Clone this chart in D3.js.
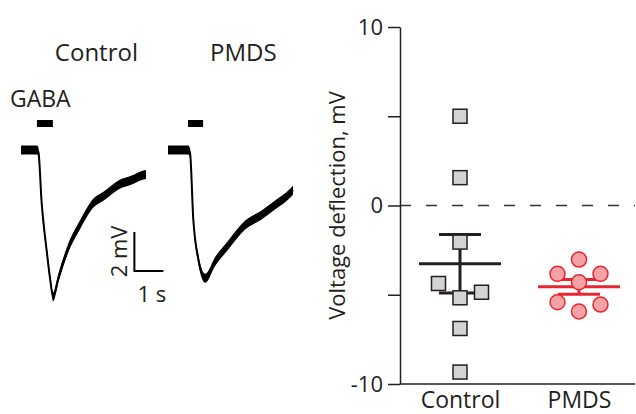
<!DOCTYPE html>
<html>
<head>
<meta charset="utf-8">
<script src="https://cdn.jsdelivr.net/npm/d3@7"></script>
<style>
  html, body { margin: 0; padding: 0; background: #fff; }
  svg { display: block; font-family: "Open Sans", sans-serif; }
</style>
</head>
<body>
<svg id="chart" width="636" height="414"></svg>
<script>
// example traces: time (s) and membrane voltage (mV, relative to baseline)
const ctrlTime = [0, 0.55, 0.6, 0.71, 0.89, 1.0, 1.11, 1.29, 1.63, 2.03, 2.44, 2.9, 3.36, 3.82, 4.22, 4.31];
const ctrlVolt = [0, 0, -0.1, -2.65, -5.22, -6.56, -7.52, -6.56, -5.03, -3.85, -2.82, -2.31, -1.79, -1.54, -1.28, -1.25];
const pmdsTime = [0, 0.7, 0.76, 0.87, 1.04, 1.28, 1.62, 2.08, 2.66, 3.23, 3.69, 4.21, 4.31];
const pmdsVolt = [0, 0, -0.15, -3.5, -5.55, -6.58, -5.73, -4.87, -3.85, -3.33, -2.82, -2.22, -2.05];

// GABA application windows (s)
const ctrlStim = [0.55, 1.1];
const pmdsStim = [0.69, 1.21];

// summary panel
const groups = ['Control', 'PMDS'];
const ctrlValues = [5.0, 1.56, -2.05, -4.37, -4.86, -5.17, -6.89, -9.33];
const ctrlSlot = [0, 0, 0, -1, 1, 0, 0, 0]; // beeswarm column
const pmdsValues = [-3.03, -3.83, -3.83, -4.3, -5.42, -5.55, -5.94];
const pmdsSlot = [0, -1, 1, 0, -1, 1, 0];
const yTicks = [-10, -5, 0, 5, 10];
const yLabels = [-10, 0, 10];

const ink = '#231f20';
const red = '#e8262d';
const pink = '#f4a2a6';
const grey = '#d3d3d3';

const svg = d3.select('#chart');

// ---------- left: traces ----------
const pxPerSec = 29;
const vy = d3.scaleLinear().domain([0, -2]).range([150, 189]);

const drawTrace = (time, volt, stim, x0, title) => {
  const tx = d3.scaleLinear().domain([0, 1]).range([x0, x0 + pxPerSec]);
  const g = svg.append('g');
  const pts = time.map((t, i) => ({ t, v: volt[i] }));

  // noise band
  g.append('path')
    .datum(pts)
    .attr('fill', '#000')
    .attr('d', d3.area()
      .curve(d3.curveMonotoneX)
      .x((d) => tx(d.t))
      .y0((d) => vy(d.v) - 4.5)
      .y1((d) => vy(d.v) + 4.5));

  g.append('path')
    .datum(pts)
    .attr('fill', 'none')
    .attr('stroke', '#000')
    .attr('stroke-width', 2)
    .attr('d', d3.line()
      .curve(d3.curveMonotoneX)
      .x((d) => tx(d.t))
      .y((d) => vy(d.v)));

  g.append('rect')
    .attr('x', tx(stim[0]))
    .attr('y', 120)
    .attr('width', tx(stim[1]) - tx(stim[0]))
    .attr('height', 7)
    .attr('fill', '#000');

  svg.append('text')
    .attr('x', tx(2.6))
    .attr('y', 61)
    .attr('text-anchor', 'middle')
    .attr('font-size', 24)
    .attr('fill', ink)
    .text(title);

  return tx;
};

const ctrlX = drawTrace(ctrlTime, ctrlVolt, ctrlStim, 21, 'Control');
drawTrace(pmdsTime, pmdsVolt, pmdsStim, 168, 'PMDS');

svg.append('text')
  .attr('x', 10)
  .attr('y', 107)
  .attr('font-size', 23)
  .attr('fill', ink)
  .text('GABA');

// scale bar: 1 s, 2 mV
const sbT = 3.91;
const sbV = -6.2;
svg.append('path')
  .attr('fill', 'none')
  .attr('stroke', '#000')
  .attr('stroke-width', 2)
  .attr('d', `M${ctrlX(sbT)},${vy(sbV + 2)}V${vy(sbV)}H${ctrlX(sbT + 1)}`);

svg.append('text')
  .attr('transform', `translate(${ctrlX(sbT) - 7}, ${vy(sbV + 1)}) rotate(-90)`)
  .attr('text-anchor', 'middle')
  .attr('font-size', 22)
  .attr('fill', ink)
  .text('2 mV');

svg.append('text')
  .attr('x', ctrlX(sbT + 0.6))
  .attr('y', 302)
  .attr('text-anchor', 'middle')
  .attr('font-size', 22)
  .attr('fill', ink)
  .text('1 s');

// ---------- right: summary ----------
const y = d3.scaleLinear().domain([-10, 10]).range([384, 27]);
const x = d3.scalePoint().domain(groups).range([460, 579]);
const slotW = 21.5;

// zero line
svg.append('line')
  .attr('x1', 400)
  .attr('x2', 635)
  .attr('y1', y(0))
  .attr('y2', y(0))
  .attr('stroke', '#333')
  .attr('stroke-width', 1.5)
  .attr('stroke-dasharray', '11,15');

const yAxis = svg.append('g')
  .attr('transform', 'translate(400,0)')
  .call(d3.axisLeft(y)
    .tickValues(yTicks)
    .tickSize(12)
    .tickSizeOuter(0)
    .tickPadding(5)
    .tickFormat((d) => (yLabels.includes(d) ? String(d) : '')));
yAxis.select('.domain').attr('stroke', ink).attr('stroke-width', 1.5);
yAxis.selectAll('.tick line').attr('stroke', ink).attr('stroke-width', 1.5);
yAxis.selectAll('.tick text')
  .attr('font-family', '"Open Sans", sans-serif')
  .attr('font-size', 22)
  .attr('fill', ink);

svg.append('line')
  .attr('x1', 400)
  .attr('x2', 635)
  .attr('y1', y(-10))
  .attr('y2', y(-10))
  .attr('stroke', ink)
  .attr('stroke-width', 1.5);

const xAxis = svg.append('g')
  .attr('transform', `translate(0, ${y(-10)})`)
  .call(d3.axisBottom(x).tickSize(0).tickPadding(8));
xAxis.select('.domain').remove();
xAxis.selectAll('.tick text')
  .attr('font-family', '"Open Sans", sans-serif')
  .attr('font-size', 23)
  .attr('fill', ink);

svg.append('text')
  .attr('transform', `translate(345, ${y(0)}) rotate(-90)`)
  .attr('text-anchor', 'middle')
  .attr('font-size', 22)
  .attr('fill', ink)
  .text('Voltage deflection, mV');

// mean +/- SEM
const drawStats = (vals, group, color) => {
  const m = d3.mean(vals);
  const sem = d3.deviation(vals) / Math.sqrt(vals.length);
  const cx = x(group);
  const g = svg.append('g')
    .attr('stroke', color)
    .attr('stroke-width', 3)
    .attr('fill', 'none');
  g.append('line').attr('x1', cx - 41).attr('x2', cx + 41).attr('y1', y(m)).attr('y2', y(m));
  g.append('line').attr('x1', cx).attr('x2', cx).attr('y1', y(m + sem)).attr('y2', y(m - sem));
  [m + sem, m - sem].forEach((v) => {
    g.append('line').attr('x1', cx - 21).attr('x2', cx + 21).attr('y1', y(v)).attr('y2', y(v));
  });
};

drawStats(ctrlValues, 'Control', ink);
drawStats(pmdsValues, 'PMDS', red);

const sq = 14;
svg.append('g')
  .selectAll('rect')
  .data(ctrlValues)
  .join('rect')
    .attr('x', (d, i) => x('Control') + ctrlSlot[i] * slotW - sq / 2)
    .attr('y', (d) => y(d) - sq / 2)
    .attr('width', sq)
    .attr('height', sq)
    .attr('fill', grey)
    .attr('stroke', ink)
    .attr('stroke-width', 1.5);

svg.append('g')
  .selectAll('circle')
  .data(pmdsValues)
  .join('circle')
    .attr('cx', (d, i) => x('PMDS') + pmdsSlot[i] * slotW)
    .attr('cy', (d) => y(d))
    .attr('r', 7.5)
    .attr('fill', pink)
    .attr('stroke', red)
    .attr('stroke-width', 1.5);
</script>
</body>
</html>
